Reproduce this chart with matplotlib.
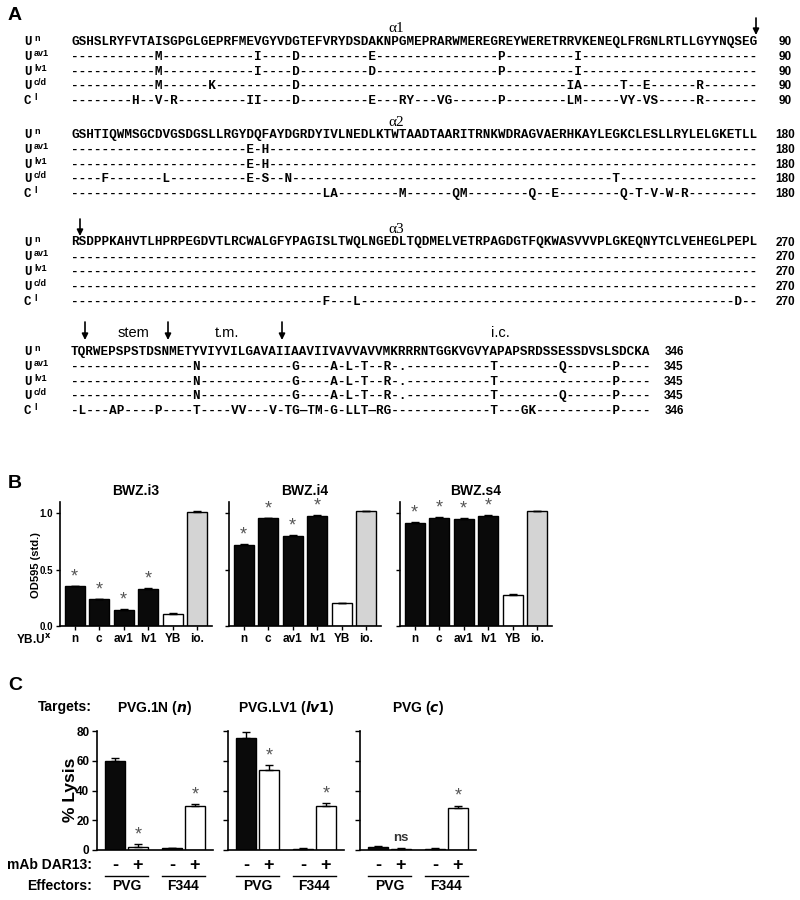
import matplotlib
matplotlib.use('Agg')
import matplotlib.pyplot as plt

plt.rcParams['font.family'] = ['Liberation Sans Narrow', 'Liberation Sans', 'DejaVu Sans']
plt.rcParams['font.weight'] = 'bold'
plt.rcParams['mathtext.fontset'] = 'custom'
plt.rcParams['mathtext.it'] = 'Liberation Sans Narrow:italic:bold'
plt.rcParams['mathtext.rm'] = 'Liberation Sans Narrow:bold'

# ---------------- data: panel A (alignment) ----------------
row_names = ['U', 'U', 'U', 'U', 'C']
row_sups = ['n', 'av1', 'lv1', 'c/d', 'l']

block1 = [
    "GSHSLRYFVTAISGPGLGEPRFMEVGYVDGTEFVRYDSDAKNPGMEPRARWMEREGREYWERETRRVKENEQLFRGNLRTLLGYYNQSEG",
    "-----------M------------I----D---------E----------------P---------I-----------------------",
    "-----------M------------I----D---------D----------------P---------I-----------------------",
    "-----------M------K----------D-----------------------------------IA-----T--E------R-------",
    "--------H--V-R---------II----D---------E---RY---VG------P--------LM-----VY-VS-----R-------",
]
block2 = [
    "GSHTIQWMSGCDVGSDGSLLRGYDQFAYDGRDYIVLNEDLKTWTAADTAARITRNKWDRAGVAERHKAYLEGKCLESLLRYLELGKETLL",
    "-----------------------E-H----------------------------------------------------------------",
    "-----------------------E-H----------------------------------------------------------------",
    "----F-------L----------E-S--N------------------------------------------T------------------",
    "---------------------------------LA--------M------QM--------Q--E--------Q-T-V-W-R---------",
]
block3 = [
    "RSDPPKAHVTLHPRPEGDVTLRCWALGFYPAGISLTWQLNGEDLTQDMELVETRPAGDGTFQKWASVVVPLGKEQNYTCLVEHEGLPEPL",
    "------------------------------------------------------------------------------------------",
    "------------------------------------------------------------------------------------------",
    "------------------------------------------------------------------------------------------",
    "---------------------------------F---L-------------------------------------------------D--",
]
block4 = [
    "TQRWEPSPSTDSNMETYVIYVILGAVAIIAAVIIVAVVAVVMKRRRNTGGKVGVYAPAPSRDSSESSDVSLSDCKA",
    "----------------N------------G----A-L-T--R-.-----------T--------Q------P----",
    "----------------N------------G----A-L-T--R-.-----------T---------------P----",
    "----------------N------------G----A-L-T--R-.-----------T--------Q------P----",
    "-L---AP----P----T----VV---V-TG\u2014TM-G-LLT\u2014RG-------------T---GK----------P----",
]
blocks = [block1, block2, block3, block4]
block_ends = [['90'] * 5, ['180'] * 5, ['270'] * 5, ['346', '345', '345', '345', '346']]
helix_labels = ['\u03b11', '\u03b12', '\u03b13', None]
domain_labels = ['stem', 't.m.', 'i.c.']

# ---------------- data: panel B ----------------
b_titles = ['BWZ.i3', 'BWZ.i4', 'BWZ.s4']
b_cats = ['n', 'c', 'av1', 'lv1', 'YB', 'io.']
b_colors = ['#0a0a0a', '#0a0a0a', '#0a0a0a', '#0a0a0a', 'white', '#d4d4d4']
b_stars = [True, True, True, True, False, False]
i3_vals = [0.35, 0.235, 0.145, 0.33, 0.105, 1.01]
i3_err = [0.006, 0.004, 0.004, 0.005, 0.006, 0.006]
i4_vals = [0.72, 0.955, 0.795, 0.975, 0.20, 1.015]
i4_err = [0.004, 0.003, 0.006, 0.003, 0.006, 0.006]
s4_vals = [0.915, 0.96, 0.95, 0.975, 0.27, 1.015]
s4_err = [0.005, 0.004, 0.003, 0.003, 0.012, 0.0]
b_vals = [i3_vals, i4_vals, s4_vals]
b_errs = [i3_err, i4_err, s4_err]

# ---------------- data: panel C ----------------
c_titles = ['PVG.1N ($n$)', 'PVG.LV1 ($lv1$)', 'PVG ($c$)']
c_pos = [0, 1, 2.5, 3.5]
c_mab = ['-', '+', '-', '+']
c_effectors = ['PVG', 'F344']
c_colors = ['#0a0a0a', 'white', '#0a0a0a', 'white']
lysis_1n = [59.5, 2.0, 1.2, 29.5]
lysis_1n_err = [2.6, 1.8, 0.3, 1.4]
lysis_lv1 = [75.3, 54.0, 1.0, 29.3]
lysis_lv1_err = [3.8, 3.0, 0.3, 2.0]
lysis_c = [2.0, 1.0, 1.0, 28.5]
lysis_c_err = [0.6, 0.3, 0.2, 1.3]
c_vals = [lysis_1n, lysis_lv1, lysis_c]
c_errs = [lysis_1n_err, lysis_lv1_err, lysis_c_err]
c_marks = [['', '*', '', '*'], ['', '*', '', '*'], ['', 'ns', '', '*']]

W, H = 800, 900
fig = plt.figure(figsize=(8, 9), dpi=100)


def fbox(l, t, r, b):
    return [l / W, 1 - b / H, (r - l) / W, (b - t) / H]


ov = fig.add_axes([0, 0, 1, 1])
ov.set_xlim(0, W)
ov.set_ylim(H, 0)
ov.axis('off')

mono = 'Liberation Mono'
wide = ['Liberation Sans', 'DejaVu Sans']

# panel letters
for lab, y in [('A', 15), ('B', 484), ('C', 686)]:
    ov.text(8, y, lab, fontsize=14, fontweight='bold', family=wide, va='center')

# ---------------- panel A ----------------
block_top = [42, 135, 242.5, 352]
row_gap = 14.8
seq_x = 71
for bi, block in enumerate(blocks):
    y0 = block_top[bi]
    for ri, seq in enumerate(block):
        y = y0 + ri * row_gap
        ov.text(24, y, row_names[ri], family=mono, fontsize=9, fontweight='bold', va='center')
        ov.text(34, y - 3.5, row_sups[ri], family=wide, fontsize=6.5, fontweight='bold', va='center')
        ov.text(seq_x, y, seq, family=mono, fontsize=9.1, fontweight='bold', va='center')
        end_x = 785 if bi < 3 else 674
        ov.text(end_x, y, block_ends[bi][ri], family=wide, fontsize=8.5, fontweight='bold',
                va='center', ha='center')
    if helix_labels[bi]:
        ov.text(396, y0 - 13, helix_labels[bi], family=['Liberation Serif'], fontsize=11,
                fontweight='normal', ha='center', va='center')

arrow_kw = dict(arrowstyle='-|>', color='black', lw=1.2, mutation_scale=9, shrinkA=0, shrinkB=0)
for ax_x, y_a, y_b in [(756, 18, 35), (80, 219, 236), (85, 322, 340), (168, 322, 340), (282, 322, 340)]:
    ov.annotate('', xy=(ax_x, y_b), xytext=(ax_x, y_a), arrowprops=arrow_kw)
for lab, x in zip(domain_labels, [133, 227, 500]):
    ov.text(x, 333, lab, family=wide, fontsize=10.5, fontweight='normal', ha='center', va='center')

# ---------------- panel B ----------------
b_boxes = [(60, 212), (229, 381), (400, 552)]
xb = list(range(len(b_cats)))
for k, (l, r) in enumerate(b_boxes):
    ax = fig.add_axes(fbox(l, 501.7, r, 626))
    vals, errs = b_vals[k], b_errs[k]
    ax.bar(xb, vals, width=0.82, color=b_colors, edgecolor='black', linewidth=1.0)
    ax.errorbar(xb, vals, yerr=[[0] * len(errs), errs], fmt='none', ecolor='black',
                elinewidth=1, capsize=3, capthick=1)
    for i, v in enumerate(vals):
        if b_stars[i]:
            ax.text(i, v + errs[i] + 0.005, '*', ha='center', va='bottom', color='#555555',
                    fontsize=13, fontweight='normal', family=wide)
    ax.set_xlim(-0.6, 5.6)
    ax.set_ylim(0, 1.1)
    ax.set_xticks(xb)
    ax.set_xticklabels(b_cats, fontsize=8.5, fontweight='bold')
    ax.set_yticks([0, 0.5, 1.0])
    if k == 0:
        ax.set_yticklabels(['0.0', '0.5', '1.0'], fontsize=7, fontweight='bold')
    else:
        ax.set_yticklabels([])
    for s in ['top', 'right']:
        ax.spines[s].set_visible(False)
    for s in ['left', 'bottom']:
        ax.spines[s].set_linewidth(1.2)
    ax.tick_params(length=3, width=1, pad=2)
    ax.text(0.5, 1.09, b_titles[k], transform=ax.transAxes, ha='center', va='center',
            fontsize=10, fontweight='bold')

ov.text(36, 565, 'OD595 (std.)', rotation=90, ha='center', va='center', fontsize=8, fontweight='bold')
ov.text(51, 640, 'YB.U$^{\\mathrm{x}}$', ha='right', va='center', fontsize=8.5, fontweight='bold')

# ---------------- panel C ----------------
c_boxes = [(97, 213), (228, 344), (360, 476)]
for k, (l, r) in enumerate(c_boxes):
    ax = fig.add_axes(fbox(l, 731, r, 850))
    vals, errs = c_vals[k], c_errs[k]
    ax.bar(c_pos, vals, width=0.88, color=c_colors, edgecolor='black', linewidth=1.0)
    ax.errorbar(c_pos, vals, yerr=[[0] * len(errs), errs], fmt='none', ecolor='black',
                elinewidth=1, capsize=3, capthick=1)
    for i, v in enumerate(vals):
        m = c_marks[k][i]
        if m == '*':
            ax.text(c_pos[i], v + errs[i] + 0.5, '*', ha='center', va='bottom', color='#555555',
                    fontsize=13, fontweight='normal', family=wide)
        elif m:
            ax.text(c_pos[i], v + errs[i] + 2.5, m, ha='center', va='bottom', color='#333333',
                    fontsize=9.5, fontweight='bold')
    ax.set_xlim(-0.8, 4.3)
    ax.set_ylim(0, 80)
    ax.set_xticks([])
    ax.set_yticks([0, 20, 40, 60, 80])
    if k == 0:
        ax.set_yticklabels(['0', '20', '40', '60', '80'], fontsize=8.5, fontweight='bold')
    else:
        ax.set_yticklabels([])
    for s in ['top', 'right']:
        ax.spines[s].set_visible(False)
    for s in ['left', 'bottom']:
        ax.spines[s].set_linewidth(1.2)
    ax.tick_params(length=3.5, width=1, pad=2)
    ax.text(0.5, 1.19, c_titles[k], transform=ax.transAxes, ha='center', va='center',
            fontsize=10, fontweight='bold')
    xt = ax.get_xaxis_transform()
    for i, p in enumerate(c_pos):
        ax.text(p, -0.13, c_mab[i], transform=xt, ha='center', va='center', fontsize=13,
                fontweight='bold', clip_on=False)
    for g, eff in enumerate(c_effectors):
        p0, p1 = c_pos[2 * g], c_pos[2 * g + 1]
        ax.plot([p0 - 0.45, p1 + 0.45], [-0.215, -0.215], transform=xt, color='black',
                lw=1, clip_on=False)
        ax.text((p0 + p1) / 2, -0.30, eff, transform=xt, ha='center', va='center',
                fontsize=10, fontweight='bold', clip_on=False)

ov.text(70, 790, '% Lysis', rotation=90, ha='center', va='center', fontsize=12.5, fontweight='bold')
ov.text(92, 707, 'Targets:', ha='right', va='center', fontsize=10, fontweight='bold')
ov.text(92, 865, 'mAb DAR13:', ha='right', va='center', fontsize=10, fontweight='bold')
ov.text(92, 886, 'Effectors:', ha='right', va='center', fontsize=10, fontweight='bold')

fig.savefig('out.png', dpi=100)
